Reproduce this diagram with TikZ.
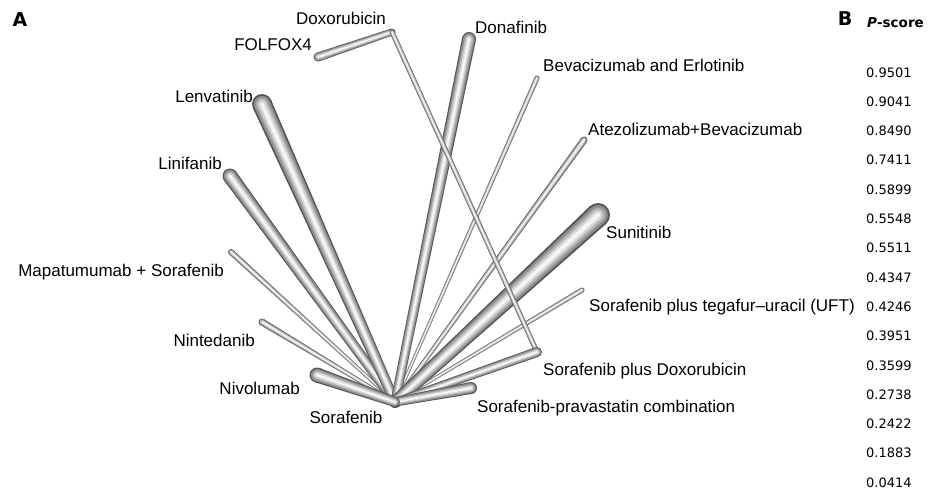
\documentclass[tikz,border=0pt]{standalone}
\usepackage{fontspec}
\setmainfont{Liberation Sans}
\newfontfamily\scorefont{DejaVu Sans}
\usetikzlibrary{positioning,calc}
\definecolor{tubeA}{gray}{0.34}
\definecolor{tubeB}{gray}{0.56}
\definecolor{tubeC}{gray}{0.70}
\definecolor{tubeD}{gray}{0.84}
\definecolor{tubeE}{gray}{0.96}
% tapered shaded tube: from #1 (half width #3) to #2 (half width #4)
\newcommand\tube[4]{%
  \foreach \f/\c in {1/tubeA,0.82/tubeB,0.6/tubeC,0.4/tubeD,0.18/tubeE}{
    \fill[\c] ($(#1)!\f*#3pt!90:(#2)$) -- ($(#2)!\f*#4pt!-90:(#1)$)
      -- ($(#2)!\f*#4pt!90:(#1)$) -- ($(#1)!\f*#3pt!-90:(#2)$) -- cycle;
    \fill[\c] (#1) circle (\f*#3pt);
    \fill[\c] (#2) circle (\f*#4pt);
  }
}
\tikzset{
  lab/.style={font=\fontsize{17}{19}\selectfont, inner sep=0pt},
  score/.style={font=\scorefont\fontsize{13}{15}\selectfont, inner sep=0pt, anchor=base west},
  panel/.style={font=\scorefont\bfseries\fontsize{19}{21}\selectfont, anchor=base, inner sep=0pt}
}

\begin{document}
\begin{tikzpicture}[x=1pt,y=-1pt]
\useasboundingbox (0,0) rectangle (933,490);

% treatments
\coordinate (sor) at (395,402);
\coordinate (dox) at (392,32);
\coordinate (fol) at (318,57);
\coordinate (don) at (469,39);
\coordinate (bev) at (537,78);
\coordinate (ate) at (584,140);
\coordinate (sun) at (598,215);
\coordinate (uft) at (582,290);
\coordinate (spd) at (537,352);
\coordinate (pra) at (471,388);
\coordinate (niv) at (317,375);
\coordinate (nin) at (262,322);
\coordinate (map) at (231,252);
\coordinate (lin) at (230,176);
\coordinate (len) at (262,104);

% comparisons
\tube{fol}{dox}{4.5}{3.5}
\tube{map}{sor}{3}{1.5}
\tube{nin}{sor}{3.5}{1.5}
\tube{lin}{sor}{7.5}{4.5}
\tube{len}{sor}{10}{5}
\tube{bev}{sor}{2.5}{1.5}
\tube{ate}{sor}{3.5}{2}
\tube{don}{sor}{7}{4.5}
\tube{uft}{sor}{2.5}{1.5}
\tube{sun}{sor}{12}{6}
\tube{dox}{spd}{2.5}{2.5}
\tube{spd}{sor}{5}{4}
\tube{pra}{sor}{6}{4.5}
\tube{niv}{sor}{7.5}{5}

% labels
\node[lab, anchor=base] (tdox) at (341,24) {Doxorubicin};
\node[lab, anchor=base east] (tfol) at (312,50) {FOLFOX4};
\node[lab, anchor=base west] (tdon) at (475,33) {Donafinib};
\node[lab, anchor=base west] (tbev) at (543,71) {Bevacizumab and Erlotinib};
\node[lab, anchor=base west] (tate) at (588,135) {Atezolizumab+Bevacizumab};
\node[lab, anchor=base west] (tsun) at (606,238) {Sunitinib};
\node[lab, anchor=base west] (tuft) at (589,311) {Sorafenib plus tegafur--uracil (UFT)};
\node[lab, anchor=base west] (tspd) at (543,375) {Sorafenib plus Doxorubicin};
\node[lab, anchor=base west] (tpra) at (477,412) {Sorafenib-pravastatin combination};
\node[lab, anchor=base] (tsor) at (346,423) {Sorafenib};
\node[lab, anchor=base east] (tniv) at (300,394) {Nivolumab};
\node[lab, anchor=base east] (tnin) at (255,346) {Nintedanib};
\node[lab, anchor=base east] (tmap) at (224,276) {Mapatumumab + Sorafenib};
\node[lab, anchor=base east] (tlin) at (222,169) {Linifanib};
\node[lab, anchor=base east] (tlen) at (253,102) {Lenvatinib};

% panels
\node[panel] (pa) at (20,26) {A};
\node[panel] (pb) at (845,25) {B};
\node[font=\scorefont\bfseries\fontsize{13.5}{15}\selectfont, anchor=base west, inner sep=0pt] (ph) at (867,27) {\textit{P}-score};

\foreach \v [count=\i from 0] in {0.9501,0.9041,0.8490,0.7411,0.5899,0.5548,0.5511,0.4347,0.4246,0.3951,0.3599,0.2738,0.2422,0.1883,0.0414}
  \node[score] (s\i) at (866,77+29.3*\i) {\v};

\end{tikzpicture}
\end{document}
